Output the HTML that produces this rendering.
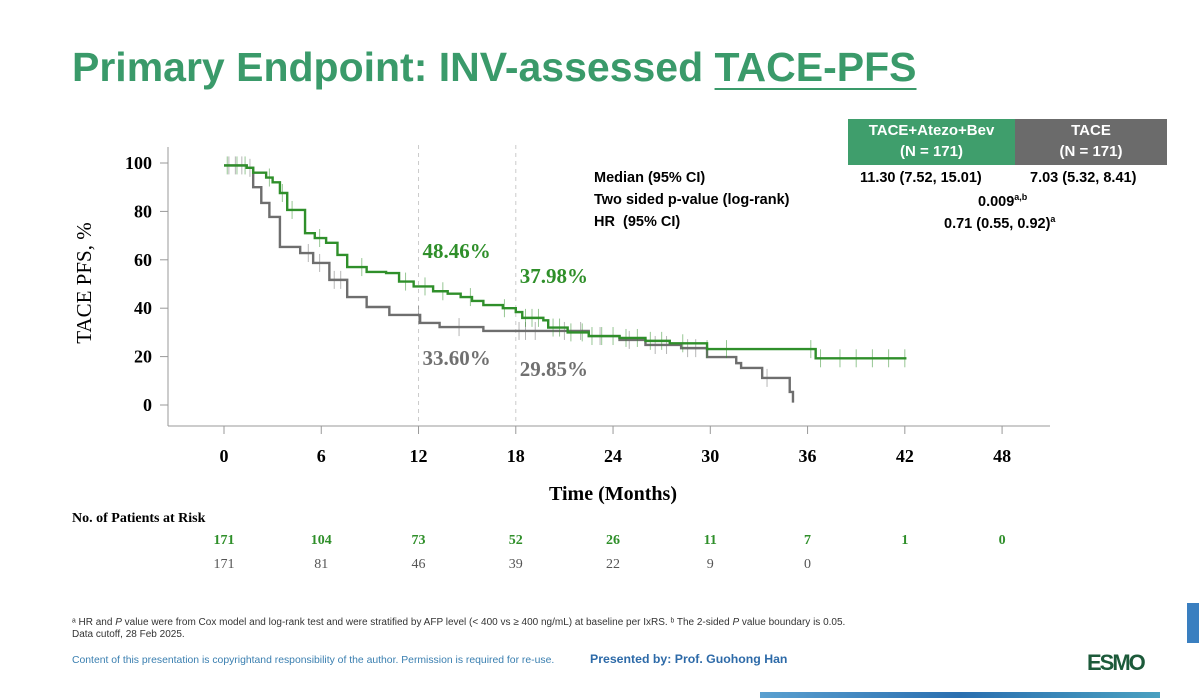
<!DOCTYPE html>
<html><head><meta charset="utf-8"><style>
body{margin:0;width:1199px;height:698px;background:#fff;overflow:hidden;font-family:"Liberation Sans",sans-serif;position:relative}
.a{position:absolute;white-space:nowrap}
</style></head><body>
<div class="a" style="left:72px;top:44px;font-size:41px;font-weight:bold;color:#3a9a6a">Primary Endpoint: INV-assessed <span style="text-decoration:underline;text-underline-offset:7px;text-decoration-thickness:2px">TACE-PFS</span></div>

<div class="a" style="left:848px;top:119px;width:167px;height:45px;background:#3f9e6c;color:#fff;font-weight:bold;font-size:15px;text-align:center;line-height:21px;padding-top:1px">TACE+Atezo+Bev<br>(N = 171)</div>
<div class="a" style="left:1015px;top:119px;width:152px;height:45px;background:#6b6b6b;color:#fff;font-weight:bold;font-size:15px;text-align:center;line-height:21px;padding-top:1px">TACE<br>(N = 171)</div>
<div class="a" style="left:594px;top:170px;font-size:14.5px;font-weight:bold">Median (95% CI)</div>
<div class="a" style="left:594px;top:192px;font-size:14.5px;font-weight:bold">Two sided p-value (log-rank)</div>
<div class="a" style="left:594px;top:214px;font-size:14.5px;font-weight:bold">HR &nbsp;(95% CI)</div>
<div class="a" style="left:860px;top:170px;font-size:14.5px;font-weight:bold">11.30 (7.52, 15.01)</div>
<div class="a" style="left:1030px;top:170px;font-size:14.5px;font-weight:bold">7.03 (5.32, 8.41)</div>
<div class="a" style="left:978px;top:192px;font-size:14.5px;font-weight:bold">0.009<sup style="font-size:9px">a,b</sup></div>
<div class="a" style="left:944px;top:214px;font-size:14.5px;font-weight:bold">0.71 (0.55, 0.92)<sup style="font-size:9px">a</sup></div>

<svg class="a" style="left:0;top:0" width="1199" height="698" id="chart"></svg>

<div class="a" style="left:72px;top:617px;font-size:10px;color:#333;line-height:12px">ᵃ HR and <i>P</i> value were from Cox model and log-rank test and were stratified by AFP level (&lt; 400 vs ≥ 400 ng/mL) at baseline per IxRS. ᵇ The 2-sided <i>P</i> value boundary is 0.05.<br>Data cutoff, 28 Feb 2025.</div>
<div class="a" style="left:72px;top:655px;font-size:10.4px;color:#3a7fb0">Content of this presentation is copyrightand responsibility of the author. Permission is required for re-use.</div>
<div class="a" style="left:590px;top:652px;font-size:12.3px;font-weight:bold;color:#2d6aa8">Presented by: Prof. Guohong Han</div>
<div class="a" style="left:1087px;top:650px;font-size:22px;font-weight:bold;color:#1c5a3a;letter-spacing:-2px">ESMO</div>
<div class="a" style="left:1187px;top:603px;width:12px;height:40px;background:#3a7fc0"></div>
<div class="a" style="left:760px;top:692px;width:400px;height:6px;background:linear-gradient(90deg,#5aa0d0,#2a6fb0,#4aa0c0)"></div>

<script>
const xTicks=[0,6,12,18,24,30,36,42,48];
const yTicks=[0,20,40,60,80,100];
const comboT=[0,1.4,1.8,2.6,3.0,3.45,3.9,4.6,5.0,5.6,6.3,7.0,7.6,8.8,10,10.8,11.7,12.9,13.8,14.6,15.3,16,17.2,18,18.4,19.7,20,21.2,22.5,24.4,26,27.5,29.8,36.5,42.1];
const comboS=[99,98,96,94,92,87.6,80.6,80.6,71,69,67,62,57,55,54.5,51,49,47,46,44.6,43,41.3,40,38.4,36,35,32,30,28.5,27.7,26.5,25.5,23.1,19.3,19.3];
const taceT=[0,1.4,1.8,2.3,2.8,3.45,4.7,5.5,6.5,7.6,8.8,10.2,12.1,13.3,16,21.3,22.5,24.4,26,28.2,29.8,31.6,31.9,33.2,34.9,35.1];
const taceS=[99,98,90,83.5,77.7,65.3,62.8,58.7,51.7,44.6,40.5,37.2,33.9,32.2,30.6,30.6,28.5,26.9,24.8,23.5,19.8,17.3,15.3,11.2,5.4,1];
const comboCens=[0.2,0.8,1.3,2.8,3.6,4.2,5.9,8.5,11.2,12.4,13.5,15.2,17.3,18.6,19,19.4,20.3,20.7,21.4,22.1,22.7,23.3,24,24.8,25.5,26.3,27,28.3,29.8,31,36.2,36.8,38,39,40,41,42];
const taceCens=[0.3,0.7,1.1,1.6,5.2,5.9,6.8,7.2,12,14.5,18.2,18.6,19.2,21,22,23.2,25,26.6,27.3,28.6,29.1,33.5];
const combo72=["48.46%","37.98%"];const tace72=["33.60%","29.85%"];
const riskCombo=[171,104,73,52,26,11,7,1,0];
const riskTace=[171,81,46,39,22,9,0];
const X=t=>224+t*16.21, Y=s=>405-s*2.42;
const svg=document.getElementById('chart');const NS="http://www.w3.org/2000/svg";
function mk(tag,attrs,txt){const e=document.createElementNS(NS,tag);for(const k in attrs)e.setAttribute(k,attrs[k]);if(txt!=null)e.textContent=txt;svg.appendChild(e);return e;}
let e;
e=mk('line',{x1:168,y1:147,x2:168,y2:426,stroke:'#999','stroke-width':1});


e=mk('line',{x1:168,y1:426,x2:1050,y2:426,stroke:'#999','stroke-width':1});


yTicks.forEach(v=>{
 mk('line',{x1:160,x2:168,y1:Y(v),y2:Y(v),stroke:'#999'});
 e=mk('text',{x:152,y:Y(v)+6,'text-anchor':'end','font-family':'Liberation Serif','font-weight':'bold','font-size':18},v);
 
 
});
xTicks.forEach(v=>{
 mk('line',{x1:X(v),x2:X(v),y1:426,y2:434,stroke:'#999'});
 e=mk('text',{x:X(v),y:462,'text-anchor':'middle','font-family':'Liberation Serif','font-weight':'bold','font-size':18},v);
 
 
});
[12,18].forEach(v=>{e=mk('line',{x1:X(v),x2:X(v),y1:145,y2:425,stroke:'#ccc','stroke-dasharray':'4,4'});
 
 });
e=mk('text',{x:0,y:0,transform:'translate(91,283) rotate(-90)','text-anchor':'middle','font-family':'Liberation Serif','font-size':21},'TACE PFS, %');


e=mk('text',{x:613,y:500,'text-anchor':'middle','font-family':'Liberation Serif','font-weight':'bold','font-size':20},'Time (Months)');


function stepPath(T,S){let d=`M${X(T[0])},${Y(S[0])}`;for(let i=1;i<T.length;i++){d+=` H${X(T[i])} V${Y(S[i])}`;}return d;}
function sAt(T,S,t){let s=S[0];for(let i=0;i<T.length;i++){if(T[i]<=t)s=S[i];}return s;}
function draw(T,S,C,col,name){
 C.forEach(t=>{e=mk('line',{x1:X(t),x2:X(t),y1:Y(sAt(T,S,t))-9,y2:Y(sAt(T,S,t))+9,stroke:col,'stroke-width':1,opacity:0.5});
  
  });
 e=mk('path',{d:stepPath(T,S),fill:'none',stroke:col,'stroke-width':2.4});
 
 
}
draw(taceT,taceS,taceCens,'#6e6e6e','tace');
draw(comboT,comboS,comboCens,'#2f8f2a','combo');
[[12,combo72[0],258,'#2f8f2a'],[18,combo72[1],283,'#2f8f2a'],[12,tace72[0],365,'#707070'],[18,tace72[1],376,'#707070']].forEach(([t,l,y,c])=>{
 e=mk('text',{x:X(t)+4,y:y,'font-family':'Liberation Serif','font-weight':'bold','font-size':21,fill:c},l);
 
 
});
e=mk('text',{x:72,y:522,'font-family':'Liberation Serif','font-weight':'bold','font-size':14},'No. of Patients at Risk');


riskCombo.forEach((v,i)=>{e=mk('text',{x:X(xTicks[i]),y:544,'text-anchor':'middle','font-family':'Liberation Serif','font-weight':'bold','font-size':14,fill:'#2f8f2a'},v);
 
 });
riskTace.forEach((v,i)=>{e=mk('text',{x:X(xTicks[i]),y:568,'text-anchor':'middle','font-family':'Liberation Serif','font-size':14,fill:'#555'},v);
 
 });
</script>
</body></html>
